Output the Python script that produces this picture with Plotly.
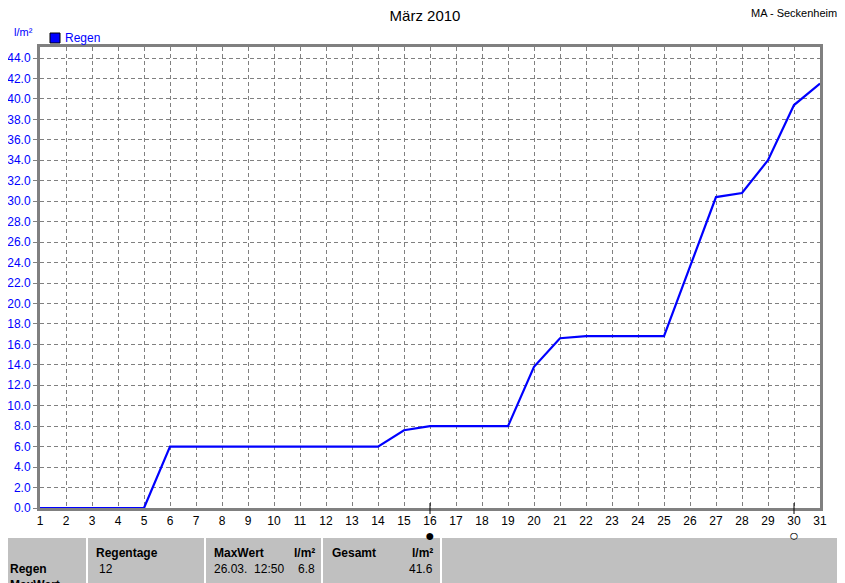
import plotly.graph_objects as go

# daily cumulative rain, March 2010 (l/m²)
days = list(range(1, 32))
regen = [0.0, 0.0, 0.0, 0.0, 0.0, 6.0, 6.0, 6.0, 6.0, 6.0,
         6.0, 6.0, 6.0, 6.0, 7.6, 8.0, 8.0, 8.0, 8.0, 13.8,
         16.6, 16.8, 16.8, 16.8, 16.8, 23.6, 30.4, 30.8, 34.0, 39.4,
         41.5]

moon_days = [16, 30]
moon_signs = ["\u25CF", "\u25CB"]

table_heads = ["Regentage", "MaxWert", "Gesamt"]
table_values = ["12", "26.03.  12:50", "6.8", "41.6"]

FONT = "Liberation Sans, Arial, sans-serif"
OFF = 8                      # default body margin of the html page
W, H = 845 - OFF, 583 - OFF
L, R, T, B = 40, 820, 47, 508  # plot area in page pixels


def px(x):
    return (x - L) / (R - L)


def py(y):
    return (B - y) / (B - T)


fig = go.Figure()

fig.add_trace(go.Scatter(x=days, y=regen, mode="lines", name="Regen",
                         line=dict(color="#0000FF", width=2.2), showlegend=False))

fig.update_layout(
    width=W, height=H,
    margin=dict(l=L - OFF, r=845 - R, t=T - OFF, b=583 - B, autoexpand=False),
    paper_bgcolor="white", plot_bgcolor="white",
    font=dict(family=FONT, size=12, color="black"),
    title=dict(text="März 2010", x=(425 - OFF) / W, xref="container", xanchor="center",
               y=1 - (16 - OFF) / H, yanchor="middle", yref="container",
               font=dict(size=15, family=FONT, color="black")),
    showlegend=False,
)

fig.update_xaxes(range=[1, 31], dtick=1, tick0=1, showgrid=True,
                 gridcolor="#808080", griddash="4px,3px", gridwidth=1,
                 showline=True, mirror=True, linecolor="#808080", linewidth=3,
                 ticks="", tickfont=dict(size=12, color="black"), zeroline=False,
                 automargin=False)
fig.update_yaxes(range=[0, 44 + 11 / 10.23], dtick=2, tick0=0, tickformat=".1f",
                 showgrid=True, gridcolor="#808080", griddash="4px,3px", gridwidth=1,
                 showline=True, mirror=True, linecolor="#808080", linewidth=3,
                 ticks="outside", ticklen=4, tickcolor="#808080",
                 tickfont=dict(size=12, color="#0000FF"), zeroline=False,
                 automargin=False)

ann = []
shapes = []
ann.append(dict(text="l/m²", x=px(12), y=py(32), xref="paper", yref="paper",
                xanchor="left", yanchor="middle", showarrow=False,
                font=dict(color="#0000FF", size=11)))
ann.append(dict(text="MA - Seckenheim", x=px(839), y=py(13), xref="paper", yref="paper",
                xanchor="right", yanchor="middle", showarrow=False,
                font=dict(color="black", size=11)))

# legend: bordered blue square + label
shapes.append(dict(type="rect", x0=px(50), x1=px(60), y0=py(43), y1=py(33),
                   xref="paper", yref="paper", fillcolor="#0000FF",
                   line=dict(color="black", width=1)))
ann.append(dict(text="Regen", x=px(63), y=py(38), xref="paper", yref="paper",
                xanchor="left", yanchor="middle", showarrow=False,
                font=dict(color="#0000FF", size=12)))

# moon phases below the day axis
for d, s in zip(moon_days, moon_signs):
    ann.append(dict(text=s, x=d, y=py(535), xref="x", yref="paper", showarrow=False,
                    xanchor="center", yanchor="middle", font=dict(size=16, color="black")))
    shapes.append(dict(type="line", x0=d, x1=d, y0=py(503), y1=py(514), xref="x", yref="paper",
                       line=dict(color="black", width=1)))

# bottom table
shapes.append(dict(type="rect", x0=px(0), x1=px(850), y0=py(538), y1=py(590),
                   xref="paper", yref="paper", fillcolor="#C0C0C0", line=dict(width=0),
                   layer="below"))
for sx in [87, 205, 322, 441, 844]:
    shapes.append(dict(type="line", x0=px(sx), x1=px(sx), y0=py(538), y1=py(590),
                       xref="paper", yref="paper", line=dict(color="white", width=2)))


def cell(text, x, y, anchor="left", bold=False):
    ann.append(dict(text=f"<b>{text}</b>" if bold else text, x=px(x), y=py(y),
                    xref="paper", yref="paper", xanchor=anchor, yanchor="middle",
                    showarrow=False, font=dict(size=12, color="black")))


cell(table_heads[0], 94, 553, bold=True)
cell(table_heads[1], 212, 553, bold=True)
cell("l/m²", 317, 553, "right", True)
cell(table_heads[2], 330, 553, bold=True)
cell("l/m²", 435, 553, "right", True)
cell("Regen", 8, 569, bold=True)
cell("MaxWert", 8, 585, bold=True)
cell(table_values[0], 97, 569)
cell(table_values[1], 212, 569)
cell(table_values[2], 317, 569, "right")
cell(table_values[3], 435, 569, "right")

fig.update_layout(annotations=ann, shapes=shapes)

fig.write_html("out.html")
